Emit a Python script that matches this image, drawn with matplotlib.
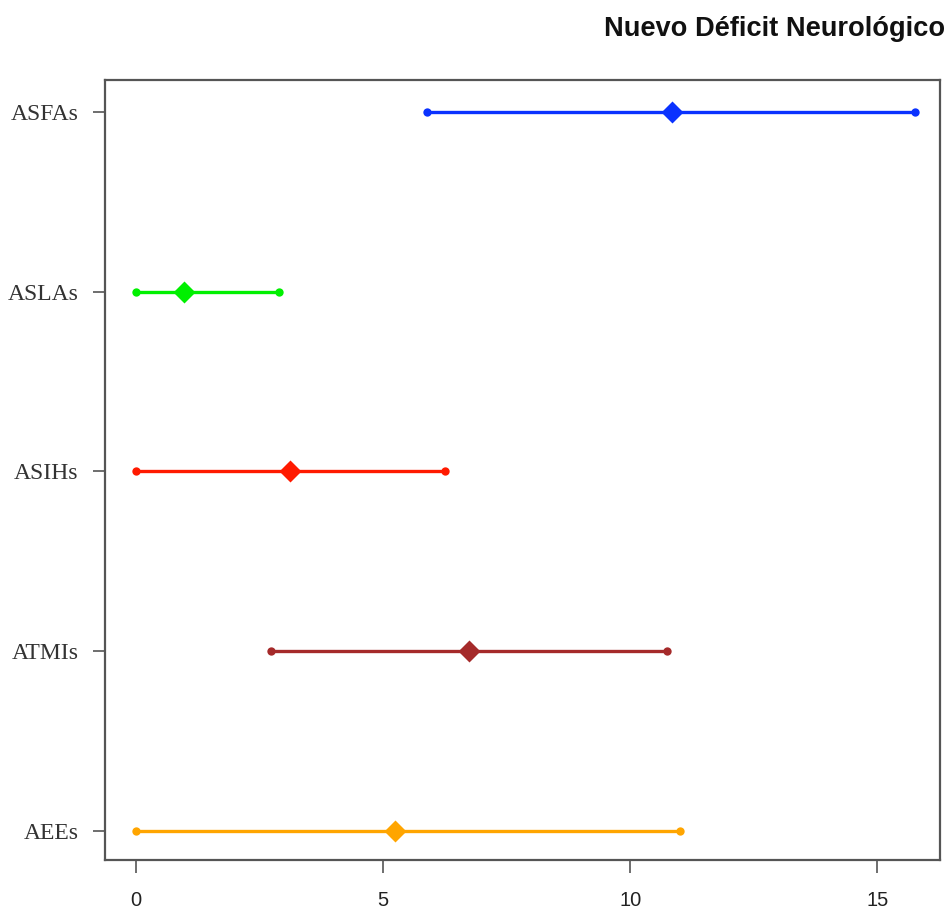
#!/usr/bin/env python3

import matplotlib
matplotlib.use("Agg")
import matplotlib.pyplot as plt

# forest-plot style data: point estimate with lower/upper bounds
labels = ["AEEs", "ATMIs", "ASIHs", "ASLAs", "ASFAs"]
estimate = [5.24, 6.74, 3.12, 0.97, 10.85]
lower = [0.0, 2.73, 0.0, 0.0, 5.88]
upper = [11.01, 10.75, 6.25, 2.89, 15.77]
colors = ["#FFA500", "#A52A2A", "#FF1A00", "#00F000", "#0A32FF"]

fig = plt.figure(figsize=(9.5, 9.18), dpi=100)
ax = fig.add_axes([0.1105, 0.0632, 0.879, 0.8497])

for i in range(len(labels)):
    y = i + 1
    ax.plot([lower[i], upper[i]], [y, y], color=colors[i], lw=2.4,
            solid_capstyle="butt", zorder=2)
    ax.plot([lower[i], upper[i]], [y, y], "o", color=colors[i], ms=6,
            mec="none", zorder=3)
    ax.plot(estimate[i], y, "D", color=colors[i], ms=11.5, mec="none", zorder=4)

ax.set_xlim(-0.63, 16.27)
ax.set_ylim(0.839, 5.178)
ax.set_xticks([0, 5, 10, 15])
ax.set_xticklabels(["0", "5", "10", "15"], family="Liberation Sans", fontsize=14.5,
                   color="#222222")
ax.set_yticks(range(1, len(labels) + 1))
ax.set_yticklabels(labels, family="Liberation Serif", fontsize=17, color="#333333")

for s in ax.spines.values():
    s.set_color("#555555")
    s.set_linewidth(1.6)
ax.tick_params(axis="both", direction="out", length=9, width=1.2, color="#555555")
ax.tick_params(axis="x", pad=13)
ax.tick_params(axis="y", pad=10)

fig.text(0.995, 0.968, "Nuevo Déficit Neurológico", ha="right", va="center",
         family="Liberation Sans", fontweight="bold", fontsize=19.6, color="#111111")

fig.savefig("out.png", dpi=100)
